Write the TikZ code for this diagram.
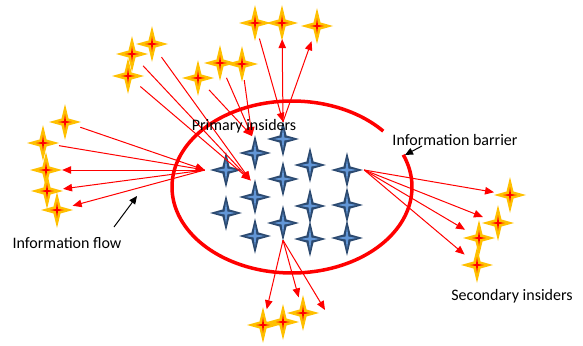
\documentclass[tikz,border=0pt]{standalone}
\usepackage{fontspec}
\setmainfont{Carlito}
\usetikzlibrary{arrows.meta}

\definecolor{starnavy}{RGB}{44,74,112}
\definecolor{starblue}{RGB}{98,150,214}
\definecolor{stargold}{RGB}{255,192,0}
\definecolor{flowred}{RGB}{255,0,0}

\tikzset{
  port/.style={circle, inner sep=0pt, minimum size=32pt},
  navyport/.style={circle, inner sep=0pt, minimum size=34pt},
  flow/.style={draw=flowred, line width=1pt, -{Triangle[length=9pt,width=7.5pt]}},
  pointer/.style={draw=black, line width=1pt, -{Triangle[length=8pt,width=7pt]}},
  barrier/.style={draw=flowred, line width=3.5pt},
  caption/.style={font=\fontsize{16}{19}\selectfont, inner sep=0pt, text=black},
  goldshape/.pic={
    \fill[stargold] (0,-18) -- (3.5,-3.5) -- (16,0) -- (3.5,3.5) -- (0,18)
                    -- (-3.5,3.5) -- (-16,0) -- (-3.5,-3.5) -- cycle;
    \fill[flowred] (0,-8) -- (1,-1) -- (7,0) -- (1,1) -- (0,8)
                   -- (-1,1) -- (-7,0) -- (-1,-1) -- cycle;
  },
  navyshape/.pic={
    \fill[starnavy] (0,-18) -- (3.5,-3.5) -- (16,0) -- (3.5,3.5) -- (0,18)
                    -- (-3.5,3.5) -- (-16,0) -- (-3.5,-3.5) -- cycle;
    \fill[starblue] (0,-11) -- (1.4,-1.4) -- (10,0) -- (1.4,1.4) -- (0,11)
                    -- (-1.4,1.4) -- (-10,0) -- (-1.4,-1.4) -- cycle;
  },
}

% a named connection node with its star drawn on top
\newcommand\goldstar[2]{\node[port] (#1) at (#2) {}; \pic at (#2) {goldshape};}
\newcommand\navystar[2]{\node[navyport] (#1) at (#2) {}; \pic at (#2) {navyshape};}

\begin{document}
\begin{tikzpicture}[x=1pt, y=-1pt]
\useasboundingbox (0,0) rectangle (583,345);

% the information barrier, open at the upper right
\draw[barrier] plot[domain=-22:319.5, samples=240]
  ({292+120*cos(\x)}, {187+86*sin(\x)});

% primary insiders
\navystar{b1}{226,170}
\navystar{b2}{255,153}
\navystar{b3}{283,139}
\navystar{b4}{226,213}
\navystar{b5}{255,197}
\navystar{b6}{283,179}
\navystar{b7}{255,236}
\navystar{b8}{283,223}
\navystar{b9}{310,165}
\navystar{b10}{310,206}
\navystar{b11}{310,239}
\navystar{b12}{347,170}
\navystar{b13}{347,205}
\navystar{b14}{347,238}

% secondary insiders
\goldstar{t1}{255,23}
\goldstar{t2}{282,23}
\goldstar{t3}{317,26}
\goldstar{u1}{152,44}
\goldstar{u2}{132,54}
\goldstar{u3}{128,76}
\goldstar{u4}{198,78}
\goldstar{u5}{220,63}
\goldstar{u6}{242,64}
\goldstar{l1}{65,122}
\goldstar{l2}{43,143}
\goldstar{l3}{46,170}
\goldstar{l4}{47,191}
\goldstar{l5}{57,210}
\goldstar{d1}{263,325}
\goldstar{d2}{283,322}
\goldstar{d3}{303,313}
\goldstar{r1}{510,195}
\goldstar{r2}{498,223}
\goldstar{r3}{479,238}
\goldstar{r4}{477,265}

% information flow
\draw[flow] (t1) -- (b3.north);
\draw[flow] (b3.north) -- (t2);
\draw[flow] (b3.north) -- (t3);

\draw[flow] (u1) -- (b5.105);
\draw[flow] (u2) -- (b5.105);
\draw[flow] (u3) -- (b5.105);
\draw[flow] (u4) -- (b2.100);
\draw[flow] (u5) -- (b2.100);
\draw[flow] (u6) -- (b2.100);

\coordinate (b1in) at ([xshift=-4pt]b1.west);
\draw[flow] (l1) -- (b1in);
\draw[flow] (l2) -- (b1in);
\draw[flow] (b1in) -- (l3);
\draw[flow] (b1in) -- (l4);
\draw[flow] (b1in) -- (l5);

\draw[flow] (b12.east) -- (r1);
\draw[flow] (b12.east) -- (r2);
\draw[flow] (b12.east) -- (r3);
\draw[flow] (b12.east) -- (r4);

\coordinate (dfree) at (325,310);
\draw[flow] (b8.south) -- (d1);
\draw[flow] (b8.south) -- (d3);
\draw[flow] (b8.south) -- (dfree);

% labels
\node[caption] (lprim) at (244,126) {Primary insiders};
\node[caption] (lbar) at (455,140) {Information barrier};
\node[caption] (lflow) at (67,243) {Information flow};
\node[caption] (lsec) at (512,296) {Secondary insiders};

\coordinate (flowfrom) at (114,227);
\coordinate (flowto) at (137,196);
\draw[pointer] (flowfrom) -- (flowto);
\coordinate (barfrom) at (422,146);
\coordinate (barto) at (405,155);
\draw[pointer] (barfrom) -- (barto);
\end{tikzpicture}
\end{document}
